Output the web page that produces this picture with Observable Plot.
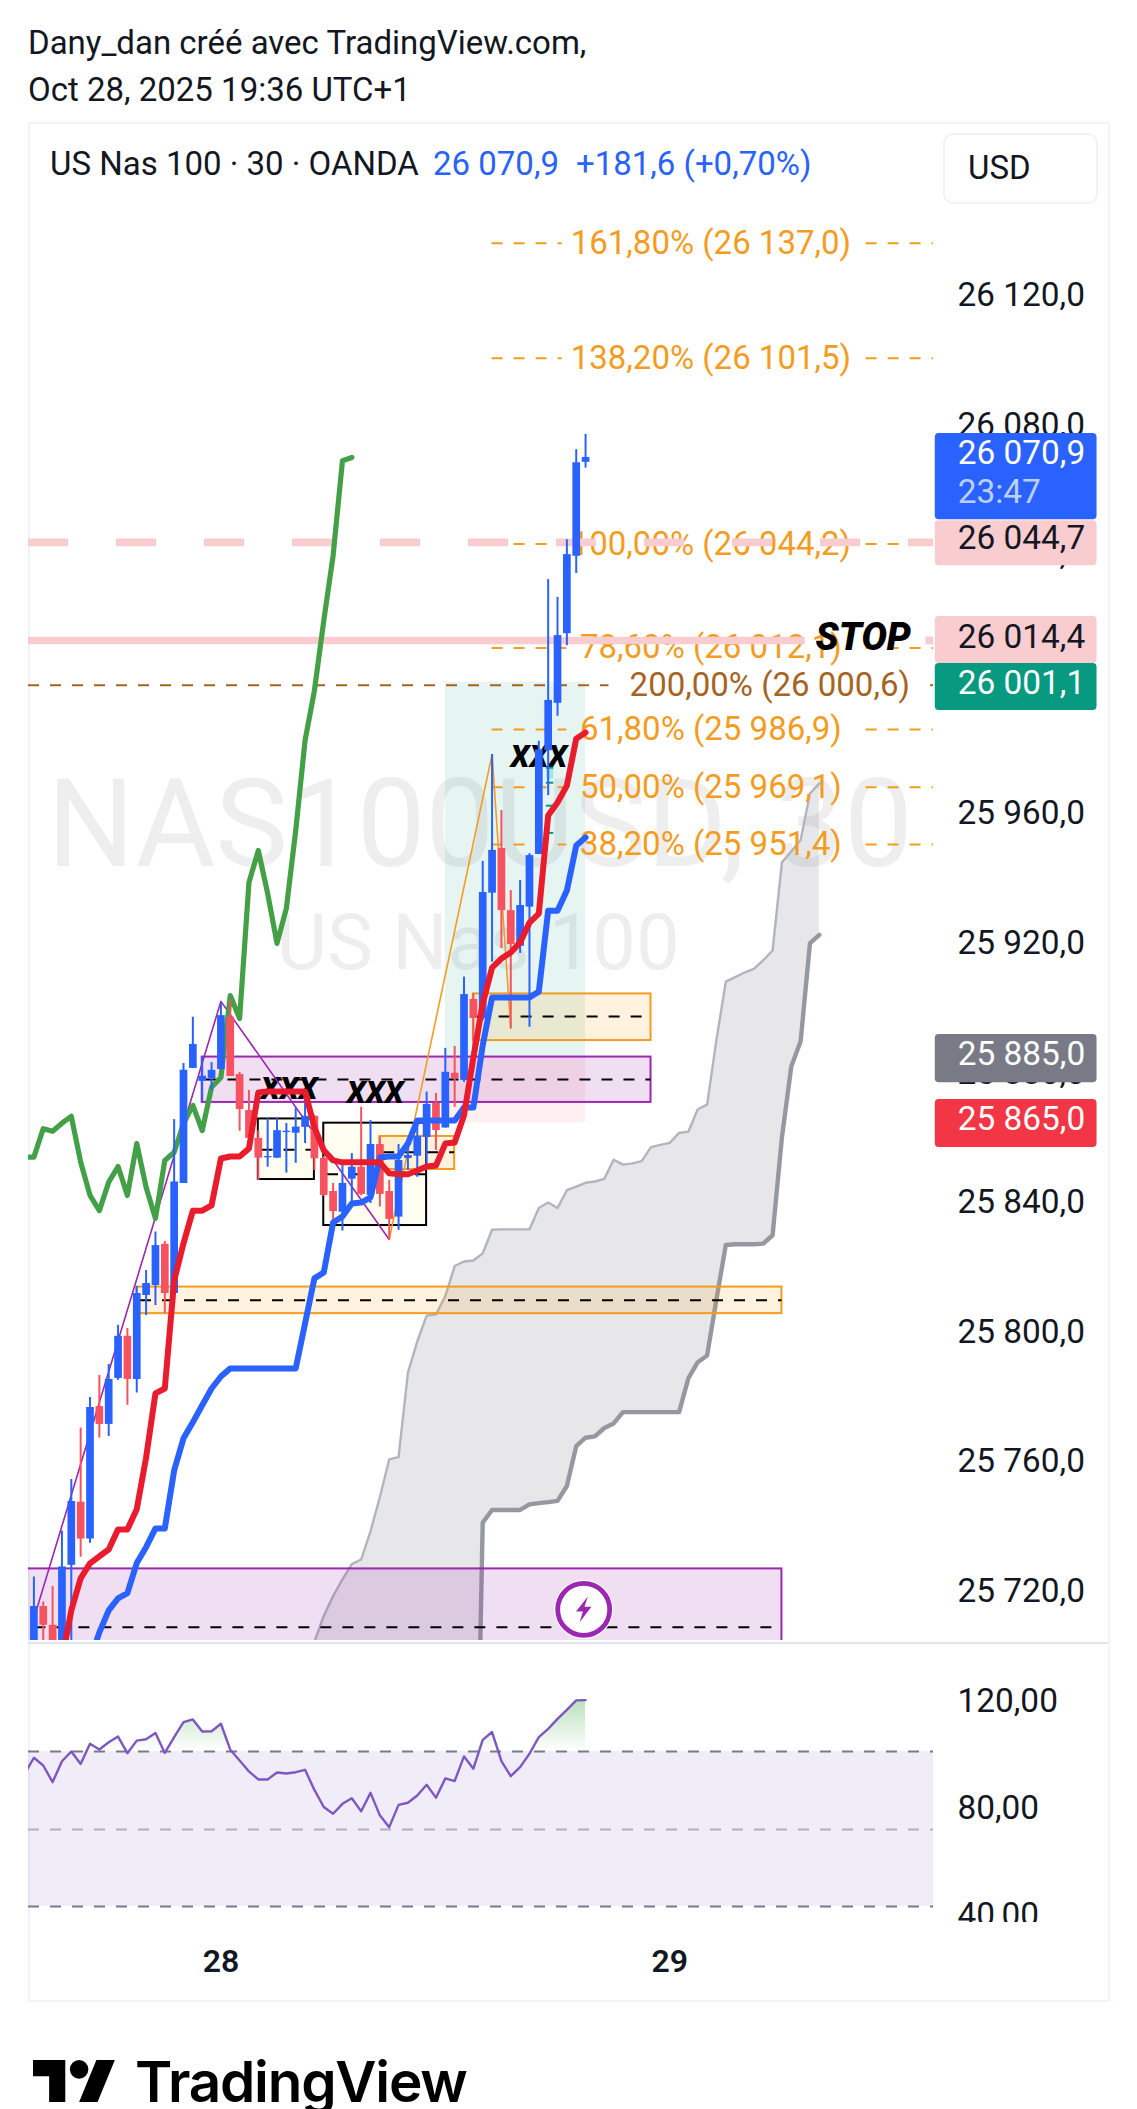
<!DOCTYPE html>
<html><head><meta charset="utf-8">
<script src="https://cdn.jsdelivr.net/npm/d3@7"></script>
<script src="https://cdn.jsdelivr.net/npm/@observablehq/plot@0.6"></script>
<style>
html,body{margin:0;padding:0;background:#fff;width:1137px;height:2109px;overflow:hidden;font-family:Roboto,sans-serif;color:#131722}
#page{position:relative;width:1137px;height:2109px}
.t{position:absolute;white-space:pre;line-height:1}
svg{position:absolute;left:0;background:transparent;overflow:hidden;max-width:none}
</style></head><body><div id="page">
<div class="t" style="left:28px;top:26px;font-size:33px">Dany_dan créé avec TradingView.com,</div>
<div class="t" style="left:28px;top:73px;font-size:33px">Oct 28, 2025 19:36 UTC+1</div>
<div style="position:absolute;left:28px;top:122px;width:1078px;height:1876px;border:2px solid #f0f3fa"></div>
<div class="t" style="left:50px;top:147px;font-size:33px">US Nas 100 · 30 · OANDA</div>
<div class="t" style="left:433px;top:147px;font-size:33px;color:#2962ff">26 070,9</div>
<div class="t" style="left:576px;top:147px;font-size:33px;color:#2962ff">+181,6 (+0,70%)</div>
<div style="position:absolute;left:943px;top:133px;width:151px;height:67px;border:2px solid #f0f3fa;border-radius:10px"></div>
<div class="t" style="left:968px;top:151px;font-size:33px">USD</div>
<svg style="left:33px;top:2060px" width="83" height="42" viewBox="0 4 36 18" preserveAspectRatio="none"><path fill="#000" d="M14 22H7V11H0V4h14v18zM28 22h-8l7.5-18h8L28 22z"/><circle fill="#000" cx="20" cy="8" r="4"/></svg>
<div class="t" style="left:135px;top:2054px;font-family:Inter,sans-serif;font-weight:600;font-size:56.6px;letter-spacing:-1.2px;color:#000">TradingView</div>
</div>
<script>
const highs=[25725.3,25717.6,25722.4,25739.5,25755.4,25771.3,25780.7,25787.5,25790.9,25803,25802,25815,25819.9,25831.8,25828.9,25866.5,25883.8,25898.1,25885.8,25884.1,25902.3,25903.3,25881.1,25875.5,25863.1,25866.8,25866.8,25865.3,25869.9,25874.6,25867.8,25855.1,25846.8,25852.3,25856,25870.3,25866.2,25861.1,25847.7,25858.8,25860.7,25866.2,25875,25874.6,25888.5,25889.1,25910.5,25905.4,25946.2,25979.2,25961.9,25937.2,25940.3,25948.6,25983.3,26033.2,26027.7,26045.5,26073.3,26078];
const lows=[25699.6,25702.6,25699.6,25699.6,25702.6,25731.4,25735.7,25768.2,25768.7,25786,25778.3,25782.1,25806,25809.1,25806.7,25809.7,25846.8,25882.3,25871.9,25875.5,25881.7,25879.8,25862.9,25860.7,25847.7,25851.8,25854.5,25850,25853,25859.1,25850.8,25842.8,25832.9,25832.1,25839.5,25843,25840.6,25839.5,25829.2,25832.3,25850.8,25848.7,25852.3,25857,25863.9,25870.3,25878,25887.3,25897,25915.1,25919.3,25894.6,25917.8,25895,25948.3,25966.5,25991,26012.8,26035.1,26067.6];
const opens=[25702.6,25716.2,25710.4,25702.6,25728.9,25748.4,25737,25777.9,25772.4,25786.6,25799.6,25786.3,25812.2,25815.3,25828,25812.8,25846.8,25882.3,25878.3,25879.2,25882,25898.1,25880.4,25869.3,25860.7,25854.7,25854.6,25862.5,25862.3,25864.1,25867.5,25854.5,25844.3,25837.9,25848.1,25851.8,25843.1,25858.8,25844.3,25836.4,25854.5,25855.2,25861,25871.5,25863.9,25880.8,25878.6,25903.6,25897.7,25936.4,25950.2,25931,25920,25932.1,25948.3,25980.4,25995,26016.5,26040.4,26069.4];
const closes=[25716.2,25710.4,25702.6,25728.4,25748.6,25737,25777.6,25772.4,25786.3,25799.6,25786.3,25812.8,25815.9,25827.6,25812.8,25847.2,25881.7,25889.7,25879.9,25881.7,25898.6,25879.8,25869.6,25860.7,25854.6,25855.1,25863.1,25862.9,25864.2,25867.5,25854.4,25843.1,25838.1,25846.8,25851.8,25843.4,25858.8,25843.4,25835.7,25853.9,25855.4,25861.3,25871.2,25863.1,25881.1,25879.2,25905.1,25897.7,25936.6,25949.6,25931,25920.5,25932.6,25948,25980.7,25995.9,26015.9,26040.9,26069.3,26070.9];

const laggingStart=-1;
const lagging=[25854.9,25854.9,25863.7,25862.9,25865.4,25867.5,25853.4,25843.1,25838.4,25847.2,25852,25843.1,25859.1,25845.6,25836,25853.9,25856.4,25865.3,25870.9,25863.1,25876.5,25879.5,25904.8,25897.7,25939.7,25949.6,25936.3,25920.9,25931.7,25955.7,25983.5,25998.9,26020.5,26040.6,26069.9,26070.9];
const redStart=3;
const redLine=[25699.6,25715,25724.9,25729.5,25731.7,25733.8,25740,25740,25746.2,25762.2,25782,25783.5,25816.8,25828.3,25838.4,25838.4,25840,25854.5,25855.1,25855.1,25857.6,25874.9,25875.2,25875.2,25875.2,25875.2,25875.2,25864.1,25857,25853.9,25853.3,25853.3,25853.3,25853.3,25853.3,25849.9,25849.6,25849.6,25850.8,25852,25852.3,25859.1,25859.4,25867.8,25885.7,25902.3,25913.4,25916.2,25918.1,25921.2,25927.3,25930.1,25960.4,25964.4,25969.6,25984.1,25986];
const blueStart=6;
const blueLine=[25699.6,25708.2,25715,25718.7,25720.3,25729.6,25734.5,25740.3,25740.3,25758.2,25768.1,25773.1,25778.3,25783.5,25787.2,25789.7,25789.7,25789.7,25789.7,25789.7,25789.7,25789.7,25789.7,25803.6,25817.5,25819.3,25834.7,25836.6,25840.6,25840.9,25842.5,25854.8,25855.1,25855.1,25859.1,25866.2,25866.2,25866.2,25866.2,25866.2,25870.2,25870.2,25889.4,25904.2,25904.2,25904.2,25904.2,25904.2,25906,25931,25931,25937.2,25951.1,25953.6];
const cloudStart=30;
const cloudTop=[25705.3,25713.3,25719.4,25724.6,25729.3,25730.7,25739.4,25750,25761.6,25762.3,25788.4,25798,25806,25806.3,25812,25821.3,25822.7,25823,25825.2,25832.5,25832.6,25832.6,25832.6,25832.6,25839.2,25840.9,25839.2,25844.7,25845.8,25847,25847.4,25848.2,25854.1,25852.6,25853,25853.7,25858,25858.7,25859.3,25862.4,25862.8,25869.7,25871.1,25891.2,25909.1,25910.5,25911.9,25913,25915.7,25918.7,25945.9,25949.3,25952.8,25967.2,25970.3];
const cloudBottomStart=47;
const cloudBottom=[25600,25742.1,25746,25746,25746,25746,25747.7,25748.1,25748.4,25748.8,25753.4,25765.7,25768.3,25768.7,25771.3,25772.7,25776.2,25776.2,25776.2,25776.2,25776.2,25776.2,25776.2,25786.7,25791.6,25793.7,25811.1,25827.8,25828,25828,25828,25828.2,25830.8,25861,25882.9,25890.7,25921,25923.5];

const oscStart=-1;
const osc=[93.5,99.5,96.6,90.4,98.2,101.8,97.2,104.7,102.6,105.3,107.4,101.2,105.9,106.4,108.7,101.3,107.2,112.8,113.8,109.3,109.4,112.2,102.5,98.5,94.4,91.4,91.4,94,93.6,94.1,95,87.5,81.1,78.6,82.3,84.4,79.5,86.4,78,73.6,81.9,82.7,85.4,89.4,84.6,91.8,90.8,100,95.4,106.2,109.1,98.2,92.6,96,101,107.2,110.3,114,117.4,120.9,121];
const oscLevels=[101.8,72.7,44];

const priceTicks=[26120,26080,26040,26000,25960,25920,25880,25840,25800,25760,25720];
const oscTicks=[120,80,40];
const dayTicks=[20,68], dayLabels=["28","29"];

const fibLabels=["161,80% (26 137,0)","138,20% (26 101,5)","100,00% (26 044,2)","78,60% (26 012,1)","61,80% (25 986,9)","50,00% (25 969,1)","38,20% (25 951,4)"];
const fibPrices=[26137,26101.5,26044.2,26012.1,25986.9,25969.1,25951.4];

const purpleBoxes=[{a:-5,b:80,top:25727.8,bot:25690,mid:25709.8},{a:18,b:66,top:25885.8,bot:25871.8,mid:25878.9}];
const orangeBoxes=[{a:11,b:80,top:25814.8,bot:25806.6,mid:25810.7},{a:47,b:66,top:25905.3,bot:25890.9,mid:25898.3},{a:37,b:45,top:25861.3,bot:25851.1,mid:25856.4}];
const blackBoxes=[{a:24,b:30,top:25866.7,bot:25848,mid:25857.2},{a:31,b:42,top:25865.4,bot:25833.8,mid:25849.6}];
const zigzagPurple=[[0,25712.5],[20,25903],[38,25829.5]];
const zigzagOrange=[[38,25829.5],[49,25979.2],[51,25894.6]];
const notes=[{x:27.3,p:25876,s:"XXX"},{x:36.5,p:25874.7,s:"XXX"},{x:54,p:25978.4,s:"XXX"}];
const tealTicks=[25975.1,25970.5,25963.4,25955];
const tags=[
 {top:26078.3,bot:26051.7,fill:"#2962ff"},
 {top:26051.4,bot:26037.5,fill:"#f9ccd0"},
 {top:26021.8,bot:26007.3,fill:"#f9ccd0"},
 {top:26007.3,bot:25992.8,fill:"#089981"},
 {top:25892.8,bot:25877.9,fill:"#787b86"},
 {top:25872.7,bot:25857.9,fill:"#f23645"}];
const tagTexts=[
 {p:26072.1,s:"26 070,9",c:"#fff"},{p:26060,s:"23:47",c:"#bcd0ff"},
 {p:26045.9,s:"26 044,7",c:"#131722"},{p:26015.3,s:"26 014,4",c:"#131722"},
 {p:26001.1,s:"26 001,1",c:"#fff"},{p:25886.6,s:"25 885,0",c:"#fff"},{p:25866.5,s:"25 865,0",c:"#fff"}];

const FONT="Roboto, sans-serif", TICK=33.4, LABEL=33;
const xLo=-0.5775, xHi=96.21;
const BLUE="#2962ff", RED="#f7525f", ORANGE="#f39c1f", PURPLE="#9c27b0", BROWN="#a5641f";
const bars=highs.map((h,i)=>({i,h,l:lows[i],o:opens[i],c:closes[i]}));
const up=bars.filter(d=>d.c>=d.o), down=bars.filter(d=>d.c<d.o);
const seq=(arr,start)=>arr.map((p,k)=>({i:start+k,p}));
const cloud=cloudTop.map((t,k)=>{const i=cloudStart+k;const j=i-cloudBottomStart;return {i,t,b:j>=0?cloudBottom[j]:25600}});
const pts=a=>a.map(([i,p])=>({i,p}));
const fmt=v=>{const s=v.toFixed(1).replace(".",",");return s.slice(0,2)+" "+s.slice(2)};
const dash=(rows,o)=>Plot.ruleY(rows,{x1:"a",x2:"b",y:"p",clip:true,...o});
const boltSymbol={draw(ctx,size){const s=Math.sqrt(size)/2.2;const P=[[.32,-1],[-.6,.16],[-.06,.16],[-.32,1],[.6,-.2],[.06,-.2]];P.forEach(([x,y],k)=>k?ctx.lineTo(x*s,y*s):ctx.moveTo(x*s,y*s));ctx.closePath();}};

const boxMarks=(list,fill,op,stroke)=>[
  Plot.rect(list,{x1:"a",x2:"b",y1:"bot",y2:"top",fill,fillOpacity:op,stroke,strokeWidth:2,clip:true})];
const midMarks=list=>dash(list.map(d=>({a:d.a+.4,b:d.b,p:d.mid})),{stroke:"#000",strokeWidth:2,strokeDasharray:"11,11"});

const fibRows=fibPrices.map((p,k)=>({p,s:fibLabels[k]}));
const fibSeg=fibPrices.flatMap((p,k)=>[{a:49,b:k<2?56.5:57,p},{a:89,b:xHi,p}]);

const main=Plot.plot({
  width:1137,height:1643,marginTop:122,marginBottom:3,marginLeft:28,marginRight:204,
  x:{type:"linear",domain:[xLo,xHi],axis:null},
  y:{type:"linear",domain:[25705.7,26174.3]},
  style:{fontFamily:FONT,background:"transparent"},
  marks:[
    Plot.text(["NAS100USD, 30"],{x:47.7,y:25956.8,text:d=>d,fontSize:122.4,fill:"#787b86",fillOpacity:.13,fontWeight:400}),
    Plot.text(["US Nas 100"],{x:47.5,y:25920.5,text:d=>d,fontSize:77.5,fill:"#787b86",fillOpacity:.13}),
    Plot.rect([{a:44,b:59,t:26001.5,m:25885.7}],{x1:"a",x2:"b",y1:"m",y2:"t",fill:"#089981",fillOpacity:.1}),
    Plot.rect([{a:44,b:59,t:25885.7,m:25865.5}],{x1:"a",x2:"b",y1:"m",y2:"t",fill:"#f23645",fillOpacity:.08}),
    Plot.areaY(cloud,{x:"i",y1:"b",y2:"t",fill:"#787b86",fillOpacity:.18,clip:true}),
    Plot.line(cloud,{x:"i",y:"t",stroke:"#b2b5be",strokeWidth:2.4,clip:true}),
    Plot.line(cloudBottom.map((p,k)=>({i:cloudBottomStart+k,p})),{x:"i",y:"p",stroke:"#9598a1",strokeWidth:4.4,clip:true}),
    ...boxMarks(blackBoxes,"#fffef0",1,"#000"),
    midMarks(blackBoxes),
    ...boxMarks(purpleBoxes,PURPLE,.15,PURPLE),
    midMarks(purpleBoxes),
    ...boxMarks(orangeBoxes,"#ff9800",.13,ORANGE),
    midMarks(orangeBoxes),
    dash(fibSeg,{stroke:ORANGE,strokeWidth:2,strokeDasharray:"11,11"}),
    dash([{a:xLo,b:61.5,p:26000.6},{a:95.9,b:xHi,p:26000.6}],{stroke:BROWN,strokeWidth:2,strokeDasharray:"11,11"}),
    Plot.text(fibRows,{x:72.4,y:"p",text:"s",fill:ORANGE,fontSize:LABEL}),
    Plot.text(["200,00% (26 000,6)"],{x:78.7,y:26000.6,text:d=>d,fill:BROWN,fontSize:LABEL}),
    dash([{a:xLo,b:xHi,p:26044.7}],{stroke:"#f9ccd0",strokeWidth:7.7,strokeDasharray:"40,48"}),
    dash([{a:xLo,b:82.5,p:26014.4},{a:95.4,b:xHi,p:26014.4}],{stroke:"#f9ccd0",strokeWidth:7.7}),
    Plot.text(["STOP"],{x:83.6,y:26015.3,text:d=>d,fontSize:38,fontWeight:900,fontStyle:"italic",fill:"#000",textAnchor:"start"}),
    Plot.text(notes,{x:"x",y:"p",text:"s",fontSize:30.5,fontWeight:900,fontStyle:"italic",fill:"#000"}),
    Plot.rect([{a:54.8,b:55.6,t:25974.6,m:25971.6}],{x1:"a",x2:"b",y1:"m",y2:"t",fill:"#80deea",fillOpacity:.7}),
    dash(tealTicks.map(p=>({a:54.8,b:55.6,p})),{stroke:"#089981",strokeWidth:2}),
    Plot.line(pts(zigzagPurple),{x:"i",y:"p",stroke:PURPLE,strokeWidth:1.6,clip:true}),
    Plot.line(pts(zigzagOrange),{x:"i",y:"p",stroke:ORANGE,strokeWidth:1.6,clip:true}),
    Plot.line(seq(lagging,laggingStart),{x:"i",y:"p",stroke:"#43a047",strokeWidth:5.2,strokeLinejoin:"round",clip:true}),
    Plot.ruleX(up,{x:"i",y1:"l",y2:"h",stroke:BLUE,strokeWidth:2,clip:true}),
    Plot.ruleX(down,{x:"i",y1:"l",y2:"h",stroke:RED,strokeWidth:2,clip:true}),
    Plot.ruleX(up,{x:"i",y1:"o",y2:"c",stroke:BLUE,strokeWidth:7.7,clip:true}),
    Plot.ruleX(down,{x:"i",y1:"o",y2:"c",stroke:RED,strokeWidth:7.7,clip:true}),
    Plot.line(seq(blueLine,blueStart),{x:"i",y:"p",stroke:BLUE,strokeWidth:6,strokeLinejoin:"round",strokeLinecap:"round",clip:true}),
    Plot.line(seq(redLine,redStart),{x:"i",y:"p",stroke:"#e91c2e",strokeWidth:6,strokeLinejoin:"round",strokeLinecap:"round",clip:true}),
    Plot.dot([{i:58.8,p:25715.3}],{x:"i",y:"p",r:27.5,fill:"#fff",stroke:"#fff",strokeWidth:4}),
    Plot.dot([{i:58.8,p:25715.3}],{x:"i",y:"p",r:26,fill:"#fff",stroke:PURPLE,strokeWidth:4.8}),
    Plot.dot([{i:58.8,p:25715.3}],{x:"i",y:"p",r:16,symbol:boltSymbol,fill:PURPLE,stroke:"none"}),
    Plot.axisY({anchor:"right",ticks:priceTicks,tickSize:0,tickPadding:24,tickFormat:fmt,fontSize:TICK,fill:"#131722",dy:-3,label:null}),
    Plot.rect(tags,{x1:96.4,x2:113.7,y1:"bot",y2:"top",fill:"fill",rx:4}),
    Plot.text(tagTexts,{x:98.8,y:"p",text:"s",fill:"c",textAnchor:"start",fontSize:TICK})
  ]
});
main.style.top="0px";

const lvl=oscLevels[0];
const green=osc.map((v,k)=>({i:oscStart+k,lo:lvl,hi:Math.max(v,lvl)}));
const defs=()=>{const n="http://www.w3.org/2000/svg";const d=document.createElementNS(n,"defs");const g=document.createElementNS(n,"linearGradient");g.setAttribute("id","gr");g.setAttribute("x1","0");g.setAttribute("x2","0");g.setAttribute("y1","0");g.setAttribute("y2","1");
 [["0","#4caf50",".38"],["1","#4caf50","0"]].forEach(([o,c,a])=>{const s=document.createElementNS(n,"stop");s.setAttribute("offset",o);s.setAttribute("stop-color",c);s.setAttribute("stop-opacity",a);g.appendChild(s)});d.appendChild(g);return d};
const oscPlot=Plot.plot({
  width:1137,height:279,marginTop:2,marginBottom:0,marginLeft:28,marginRight:204,
  x:{type:"linear",domain:[xLo,xHi],axis:null},
  y:{type:"linear",domain:[38,141.4]},
  style:{fontFamily:FONT,background:"transparent"},
  marks:[
    defs,
    Plot.rect([{a:xLo,b:xHi,t:oscLevels[0],m:oscLevels[2]}],{x1:"a",x2:"b",y1:"m",y2:"t",fill:"#7e57c2",fillOpacity:.11}),
    Plot.areaY(green,{x:"i",y1:"lo",y2:"hi",fill:"url(#gr)",clip:true}),
    Plot.ruleY([oscLevels[0],oscLevels[2]],{stroke:"#787b86",strokeWidth:2,strokeDasharray:"11,11"}),
    Plot.ruleY([oscLevels[1]],{stroke:"#b2b0bc",strokeWidth:2,strokeDasharray:"11,11"}),
    Plot.line(seq(osc,oscStart),{x:"i",y:"p",stroke:"#7e57c2",strokeWidth:2.4,clip:true}),
    Plot.axisY({anchor:"right",ticks:oscTicks,tickSize:0,tickPadding:24,tickFormat:v=>v+",00",fontSize:TICK,fill:"#131722",dy:-2,label:null})
  ]
});
oscPlot.style.top="1643px";

const timePlot=Plot.plot({
  width:1137,height:78,marginTop:0,marginBottom:60,marginLeft:28,marginRight:204,
  x:{type:"linear",domain:[xLo,xHi]},
  style:{fontFamily:FONT,background:"transparent"},
  marks:[Plot.axisX({anchor:"bottom",ticks:dayTicks,tickSize:0,tickPadding:9,tickFormat:v=>dayLabels[dayTicks.indexOf(v)],fontSize:32,fontWeight:600,fill:"#131722",label:null})]
});
timePlot.style.top="1922px";

const page=document.getElementById("page");
page.append(main,oscPlot,timePlot);
const sep=document.createElement("div");sep.style.cssText="position:absolute;left:28px;top:1642px;width:1080px;height:2px;background:#e0e3eb";page.append(sep);
</script></body></html>
